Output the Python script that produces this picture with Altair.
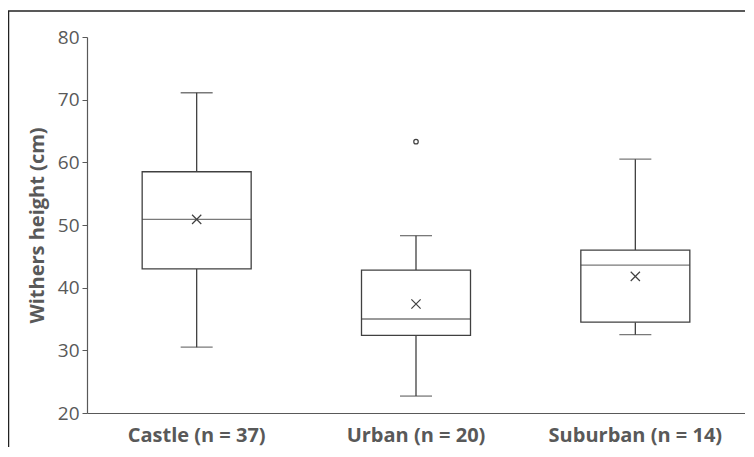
import altair as alt
import pandas as pd

categories = ["Castle (n = 37)", "Urban (n = 20)", "Suburban (n = 14)"]
whisker_low = [30.5, 22.7, 32.5]
q1 = [43.0, 32.4, 34.5]
median = [50.9, 35.0, 43.6]
q3 = [58.5, 42.8, 46.0]
whisker_high = [71.1, 48.3, 60.5]
mean = [50.9, 37.4, 41.8]

outlier_category = ["Urban (n = 20)"]
outlier_value = [63.3]

df = pd.DataFrame({
    "cat": categories, "lo": whisker_low, "q1": q1, "med": median,
    "q3": q3, "hi": whisker_high, "mean": mean,
})
out_df = pd.DataFrame({"cat": outlier_category, "v": outlier_value})

LINE = "#404040"
TEXT = "#595959"
FONT = "Open Sans"

xs = alt.X("cat:N", sort=categories, title=None,
           scale=alt.Scale(domain=categories, paddingInner=0, paddingOuter=0),
           axis=alt.Axis(labelAngle=0, ticks=False, tickSize=0, labelPadding=12, grid=False,
                         labelFontWeight="bold", labelFontSize=20, labelColor=TEXT,
                         labelFont=FONT, domainColor=TEXT, domainWidth=1.2))
yscale = alt.Scale(domain=[20, 80], nice=False, zero=False)
yaxis = alt.Axis(values=[20, 30, 40, 50, 60, 70, 80], grid=False, tickSize=5,
                 tickColor=TEXT, domainColor=TEXT, domainWidth=1.2, labelColor=TEXT,
                 labelFontSize=19, labelFont=FONT, labelPadding=3,
                 title="Withers height (cm)", titleFont=FONT, titleFontSize=20,
                 titleFontWeight="bold", titleColor=TEXT, titlePadding=10)

base = alt.Chart(df)

lower = base.mark_rule(color=LINE, strokeWidth=1.3).encode(
    x=xs, y=alt.Y("lo:Q", scale=yscale, axis=yaxis), y2="q1:Q")
upper = base.mark_rule(color=LINE, strokeWidth=1.3).encode(
    x=xs, y=alt.Y("q3:Q", scale=yscale, axis=yaxis), y2="hi:Q")
box = base.mark_bar(size=109, fill="white", stroke=LINE, strokeWidth=1.3).encode(
    x=xs, y=alt.Y("q1:Q", scale=yscale, axis=yaxis), y2="q3:Q")
med = base.mark_tick(size=109, thickness=1.3, color=LINE, orient="horizontal").encode(
    x=xs, y=alt.Y("med:Q", scale=yscale, axis=yaxis))
cap_lo = base.mark_tick(size=32, thickness=1.3, color=LINE, orient="horizontal").encode(
    x=xs, y=alt.Y("lo:Q", scale=yscale, axis=yaxis))
cap_hi = base.mark_tick(size=32, thickness=1.3, color=LINE, orient="horizontal").encode(
    x=xs, y=alt.Y("hi:Q", scale=yscale, axis=yaxis))
mean_pt = base.mark_point(shape="M -1 -1 L 1 1 M -1 1 L 1 -1", size=85, filled=False,
                          stroke=LINE, strokeWidth=1.2, opacity=1).encode(
    x=xs, y=alt.Y("mean:Q", scale=yscale, axis=yaxis))
outl = alt.Chart(out_df).mark_point(shape="circle", size=20, filled=False,
                                    stroke=LINE, strokeWidth=1.2, opacity=1).encode(
    x=xs, y=alt.Y("v:Q", scale=yscale, axis=yaxis))

frame_top = alt.Chart(pd.DataFrame({"k": [0]})).mark_rule(color="#222222", strokeWidth=1.5).encode(
    x=alt.value(-79), x2=alt.value(660), y=alt.value(-26))
frame_left = alt.Chart(pd.DataFrame({"k": [0]})).mark_rule(color="#222222", strokeWidth=1.5).encode(
    x=alt.value(-78.5), y=alt.value(-26), y2=alt.value(420))

chart = alt.layer(frame_top, frame_left, lower, upper, box, med, cap_lo, cap_hi,
                  mean_pt, outl).properties(
    width=658, height=376,
    background="white",
    autosize=alt.AutoSizeParams(type="none"),
    padding={"left": 79, "top": 29, "right": 0, "bottom": 34},
).configure_view(strokeWidth=0, stroke="transparent").configure_axis(grid=False)

chart.save("out.html", embed_options={"renderer": "svg", "actions": False})
